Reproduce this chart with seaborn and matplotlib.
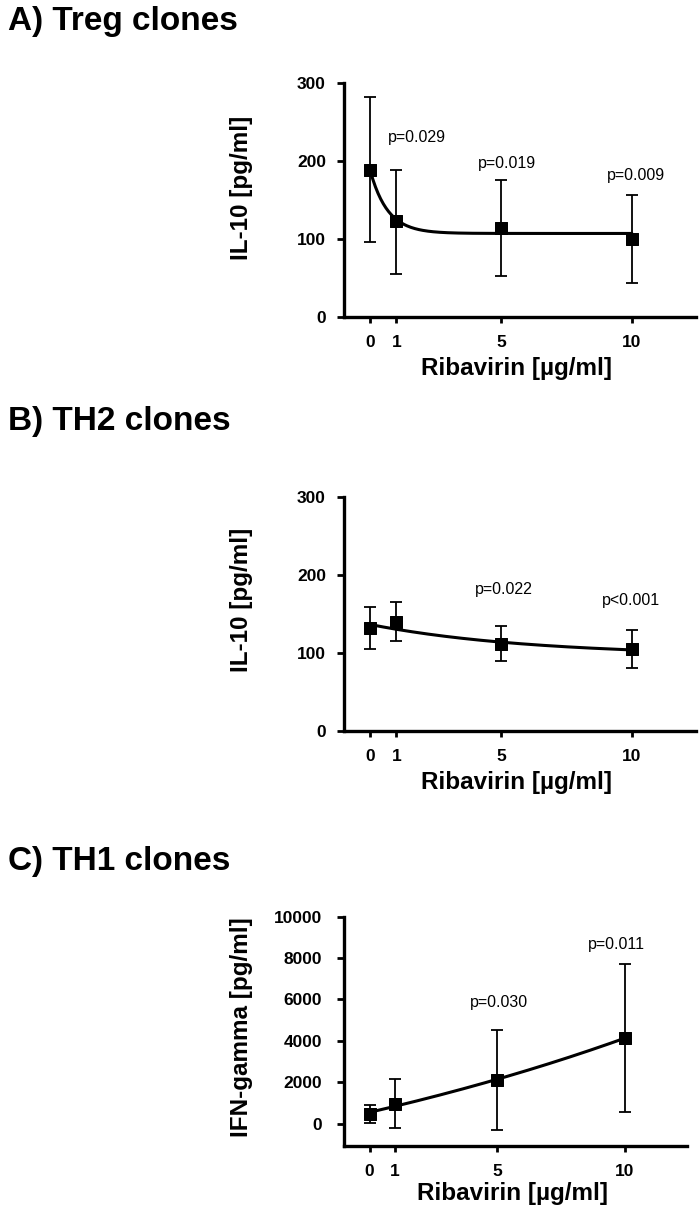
import numpy as np
import pandas as pd
import matplotlib
matplotlib.use('Agg')
import matplotlib.pyplot as plt
import seaborn as sns

# data
doses = [0, 1, 5, 10]

treg_mean = [189, 123, 114, 100]
treg_low = [96, 55, 52, 43]
treg_high = [283, 189, 176, 157]
treg_p = ['p=0.029', 'p=0.019', 'p=0.009']

th2_mean = [132, 140, 111, 105]
th2_low = [105, 115, 89, 80]
th2_high = [159, 166, 135, 129]
th2_p = ['p=0.022', 'p<0.001']

th1_mean = [483, 932, 2092, 4120]
th1_low = [48, -193, -290, 580]
th1_high = [918, 2140, 4541, 7696]
th1_p = ['p=0.030', 'p=0.011']

# fitted curves (parameters estimated from the drawn lines)
treg_fit = dict(plateau=107, span=81, rate=1.5)    # decay
th2_fit = dict(plateau=96, span=40.5, rate=0.164)  # decay
th1_fit = dict(offset=-6041, amp=6587, rate=0.0434)  # growth

sns.set_style('ticks')
plt.rcParams['font.family'] = ['Liberation Sans', 'DejaVu Sans']
plt.rcParams['text.color'] = 'black'
plt.rcParams['axes.labelcolor'] = 'black'
plt.rcParams['axes.edgecolor'] = 'black'
plt.rcParams['xtick.color'] = 'black'
plt.rcParams['ytick.color'] = 'black'

fig = plt.figure(figsize=(6.99, 12.14), dpi=100)
W, H = 699, 1214


def make_ax(left, right, top, bottom):
    return fig.add_axes([left / W, 1 - bottom / H, (right - left) / W, (bottom - top) / H])


def panel(ax, mean, low, high, curve_x, curve_y, ylim, yticks, ylabel, pvals, ppos,
          ytickpad, ylab_pos, xlab_y):
    df = pd.DataFrame({'dose': doses, 'mean': mean})
    fit = pd.DataFrame({'dose': curve_x, 'value': curve_y})
    sns.lineplot(data=fit, x='dose', y='value', ax=ax, color='black', lw=2.2)
    yerr = [np.array(mean) - np.array(low), np.array(high) - np.array(mean)]
    ax.errorbar(doses, mean, yerr=yerr, fmt='none', ecolor='black', elinewidth=1.3,
                capsize=4, capthick=1.3)
    sns.scatterplot(data=df, x='dose', y='mean', ax=ax, marker='s', s=80,
                    color='black', edgecolor='black', zorder=5)
    ax.set_xlim(-1, 12.45)
    ax.set_ylim(*ylim)
    ax.set_xticks(doses)
    ax.set_yticks(yticks)
    ax.set_xticklabels([str(d) for d in doses], fontsize=12.5, fontweight='bold')
    ax.set_yticklabels([str(t) for t in yticks], fontsize=12.5, fontweight='bold')
    ax.tick_params(axis='y', length=5, width=2, pad=ytickpad)
    ax.tick_params(axis='x', length=4, width=2, pad=9)
    for s in ['top', 'right']:
        ax.spines[s].set_visible(False)
    for s in ['left', 'bottom']:
        ax.spines[s].set_linewidth(2.4)
    ax.set_ylabel(ylabel, fontsize=17.5, fontweight='bold')
    ax.yaxis.set_label_coords(*ylab_pos)
    ax.set_xlabel('Ribavirin [µg/ml]', fontsize=17.5, fontweight='bold')
    ax.xaxis.set_label_coords(0.49, xlab_y)
    for txt, (px, py) in zip(pvals, ppos):
        ax.text(px, py, txt, fontsize=11.5, ha='center', va='center')


xs = np.linspace(0, 10, 200)

# A) Treg clones
axA = make_ax(344, 696, 83.3, 316.7)
yA = treg_fit['plateau'] + treg_fit['span'] * np.exp(-treg_fit['rate'] * xs)
panel(axA, treg_mean, treg_low, treg_high, xs, yA, (0, 300), [0, 100, 200, 300],
      'IL-10 [pg/ml]', treg_p, [(1.77, 230), (5.23, 197), (10.15, 181)],
      8, (-0.259, 0.551), -0.173)

# B) TH2 clones
axB = make_ax(344, 696, 497.3, 730.7)
yB = th2_fit['plateau'] + th2_fit['span'] * np.exp(-th2_fit['rate'] * xs)
panel(axB, th2_mean, th2_low, th2_high, xs, yB, (0, 300), [0, 100, 200, 300],
      'IL-10 [pg/ml]', th2_p, [(5.1, 182), (9.96, 167)],
      8, (-0.259, 0.562), -0.173)

# C) TH1 clones
axC = make_ax(344, 687, 916.7, 1146)
yC = th1_fit['offset'] + th1_fit['amp'] * np.exp(th1_fit['rate'] * xs)
panel(axC, th1_mean, th1_low, th1_high, xs, yC, (-1080, 10000),
      [0, 2000, 4000, 6000, 8000, 10000],
      'IFN-gamma [pg/ml]', th1_p, [(5.08, 5857), (9.7, 8660)],
      11, (-0.265, 0.519), -0.157)

for label, yb in [('A) Treg clones', 30), ('B) TH2 clones', 430), ('C) TH1 clones', 870)]:
    fig.text(8 / W, 1 - yb / H, label, fontsize=24, fontweight='bold', ha='left', va='baseline')

fig.savefig('out.png', dpi=100)
